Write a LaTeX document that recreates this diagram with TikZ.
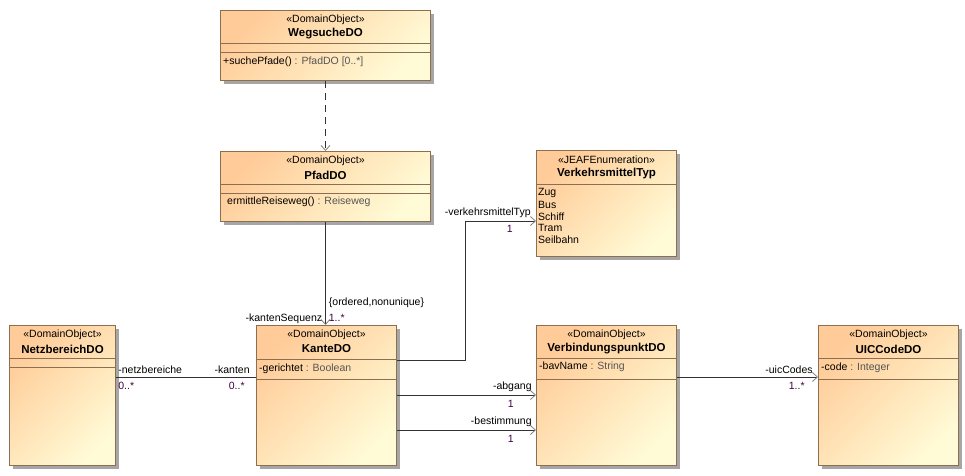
\documentclass[tikz,border=0pt]{standalone}
\usepackage{fontspec}
\setmainfont{Liberation Sans}
\usetikzlibrary{arrows.meta,shadows,positioning,calc}
\definecolor{umlorange}{RGB}{255,204,153}
\definecolor{umlyellow}{RGB}{255,251,214}
\definecolor{umlborder}{RGB}{140,110,80}
\definecolor{typegray}{RGB}{85,85,85}
\definecolor{multcolor}{RGB}{64,0,64}
\definecolor{linegray}{RGB}{50,50,50}
\tikzset{
    classbox/.style={draw=umlborder, line width=1pt, top color=umlorange, bottom color=umlyellow, shading angle=45,
        anchor=north west, inner sep=0pt, minimum width=140pt, minimum height=140pt,
        drop shadow={shadow xshift=3pt, shadow yshift=-3pt, fill=black!35, opacity=1}},
    divider/.style={draw=umlborder, line width=1pt},
    stereo/.style={font=\fontsize{10.5}{12}\selectfont, inner sep=0pt},
    clsname/.style={font=\fontsize{11.5}{13}\selectfont\bfseries, inner sep=0pt},
    member/.style={font=\fontsize{10.5}{12}\selectfont, anchor=west, inner sep=0pt},
    role/.style={font=\fontsize{10.5}{12}\selectfont, inner sep=1pt},
    roleup/.style={role, yshift=2pt},
    mult/.style={font=\fontsize{10.5}{12}\selectfont, text=multcolor, inner sep=1pt},
    multdown/.style={mult, yshift=-4pt},
    assoc/.style={draw=linegray, line width=0.8pt},
    navi/.style={assoc, -{Straight Barb[length=5pt, width=9pt, color=gray]}},
    depend/.style={navi, dash pattern=on 7pt off 5pt}
}
\begin{document}
\begin{tikzpicture}[x=1pt, y=-1pt]
\useasboundingbox (0,0) rectangle (965,475);

% classes
\node[classbox, minimum width=210pt, minimum height=70pt] (wegsuche) at (220,10) {};
\node[classbox, minimum width=210pt, minimum height=70pt, below=70pt of wegsuche] (pfad) {};
\node[classbox, minimum height=106pt] (verkehr) at (536,150) {};
\node[classbox] (kante) at (256,325) {};
\node[classbox, minimum width=106pt, left=140pt of kante] (netz) {};
\node[classbox, right=139pt of kante] (verb) {};
\node[classbox, right=141pt of verb] (uic) {};

% headers
\foreach \cls/\stype/\title in {wegsuche/DomainObject/WegsucheDO, pfad/DomainObject/PfadDO,
    verkehr/JEAFEnumeration/VerkehrsmittelTyp, netz/DomainObject/NetzbereichDO, kante/DomainObject/KanteDO,
    verb/DomainObject/VerbindungspunktDO, uic/DomainObject/UICCodeDO}{
  \node[stereo] at ($(\cls.north)+(0,10)$) {«\stype»};
  \node[clsname] at ($(\cls.north)+(0,24)$) {\title};
}

% compartments
\foreach \cls/\a/\b in {wegsuche/33/42, pfad/33/42, netz/33/42, kante/34/54, verb/33/54, uic/33/54}{
  \draw[divider] ($(\cls.north west)+(0,\a)$) -- ($(\cls.north east)+(0,\a)$);
  \draw[divider] ($(\cls.north west)+(0,\b)$) -- ($(\cls.north east)+(0,\b)$);
}
\draw[divider] ($(verkehr.north west)+(0,34)$) -- ($(verkehr.north east)+(0,34)$);

% members
\node[member] at ($(wegsuche.north west)+(3,52)$) {+suchePfade()\ \textcolor{typegray}{: PfadDO [0..*]}};
\node[member] at ($(pfad.north west)+(7,51)$) {ermittleReiseweg()\ \textcolor{typegray}{: Reiseweg}};
\node[member] at ($(kante.north west)+(3,44)$) {-gerichtet\ \textcolor{typegray}{: Boolean}};
\node[member] at ($(verb.north west)+(3,42)$) {-bavName\ \textcolor{typegray}{: String}};
\node[member] at ($(uic.north west)+(3,43)$) {-code\ \textcolor{typegray}{: Integer}};
\foreach \lit [count=\i] in {Zug,Bus,Schiff,Tram,Seilbahn}
  \node[member] at ($(verkehr.north west)+(2,31.5+11.7*\i)$) {\lit};

% connectors
\draw[depend] (wegsuche.south) -- (pfad.north);

\draw[navi] (pfad.south) -- (pfad.south |- kante.north)
  node[pos=1, role, anchor=south east, xshift=-2pt] {-kantenSequenz}
  node[pos=1, mult, anchor=south west, xshift=2pt, yshift=2pt] {1..*}
  node[pos=1, role, anchor=south west, xshift=2pt, yshift=16pt] {\{ordered,nonunique\}};

\coordinate (vkbend) at (465,221);
\draw[navi] ($(kante.north east)+(0,35)$) -| (vkbend) -- (verkehr.west |- vkbend)
  node[pos=1, roleup, anchor=south east, xshift=-4pt] {-verkehrsmittelTyp}
  node[pos=1, multdown, anchor=north east, xshift=-22pt, yshift=1pt] {1};

\draw[assoc] ($(netz.north east)+(0,52)$) -- ($(kante.north west)+(0,52)$)
  node[pos=0, roleup, anchor=south west, xshift=1pt] {-netzbereiche}
  node[pos=0, multdown, anchor=north west, xshift=1pt] {0..*}
  node[pos=1, roleup, anchor=south east, xshift=-5pt] {-kanten}
  node[pos=1, multdown, anchor=north east, xshift=-10pt] {0..*};

\draw[navi] ($(kante.north east)+(0,70)$) -- ($(verb.north west)+(0,70)$)
  node[pos=1, roleup, anchor=south east, xshift=-3pt] {-abgang}
  node[pos=1, multdown, anchor=north east, xshift=-21pt] {1};

\draw[navi] ($(kante.north east)+(0,105)$) -- ($(verb.north west)+(0,105)$)
  node[pos=1, roleup, anchor=south east, xshift=-3pt] {-bestimmung}
  node[pos=1, multdown, anchor=north east, xshift=-21pt] {1};

\draw[navi] ($(verb.north east)+(0,52)$) -- ($(uic.north west)+(0,52)$)
  node[pos=1, roleup, anchor=south east, xshift=-4pt] {-uicCodes}
  node[pos=1, multdown, anchor=north east, xshift=-12pt] {1..*};
\end{tikzpicture}
\end{document}
